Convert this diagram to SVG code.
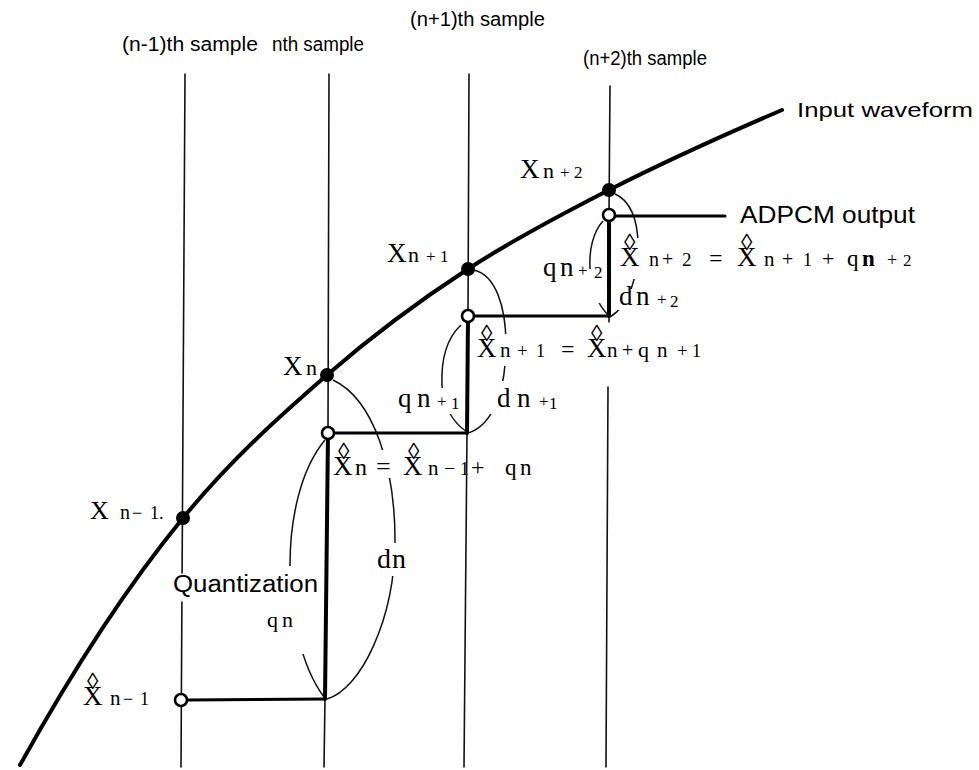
<svg xmlns="http://www.w3.org/2000/svg" width="979" height="770" viewBox="0 0 979 770">
<style>
.thin{stroke:#111;stroke-width:1.6;fill:none;stroke-linecap:round}
.thick{stroke:#000;stroke-width:4;fill:none;stroke-linecap:round}
.hz{stroke:#000;stroke-width:3;fill:none;stroke-linecap:round}
.brace{stroke:#111;stroke-width:1.5;fill:none}
.wave{stroke:#000;stroke-width:4;fill:none;stroke-linecap:round}
.dot{fill:#000}
.open{fill:#fff;stroke:#000;stroke-width:2.6}
.sans{font-family:"Liberation Sans",Arial,sans-serif;fill:#000}
.ser{font-family:"Liberation Serif","Times New Roman",serif;fill:#000}
.h{font-family:"Liberation Serif","DejaVu Serif",serif;font-size:23px}
</style>
<defs>
<mask id="gaps" maskUnits="userSpaceOnUse" x="0" y="0" width="979" height="770">
<rect x="0" y="0" width="979" height="770" fill="#fff"/>
<rect x="368" y="450" width="34" height="28" fill="#000"/>
<rect x="368" y="543" width="34" height="33" fill="#000"/>
<rect x="488" y="334" width="28" height="32" fill="#000"/>
<rect x="488" y="381" width="28" height="33" fill="#000"/>
<rect x="432" y="388" width="24" height="26" fill="#000"/>
<rect x="618" y="238" width="30" height="41" fill="#000"/>
<rect x="618" y="289" width="30" height="21" fill="#000"/>
<rect x="578" y="269" width="24" height="34" fill="#000"/>
<rect x="278" y="566" width="28" height="88" fill="#000"/>
</mask>
</defs>
<rect x="0" y="0" width="979" height="770" fill="#fff"/>

<g id="connectors">
<path class="thin" d="M185,74 L182.1,573 M181.9,602 L181,767"/>
<path class="thin" d="M329,74 L328,433 M325,699 L324,767"/>
<path class="thick" d="M328,433 L325,699"/>
<path class="thin" d="M469,74 L468,316 M467,433 L464,767"/>
<path class="thick" d="M468,316 L467,433"/>
<path class="thin" d="M610,86 L609,215 M609,316 L609,322 M608,387 L606,767"/>
<path class="thick" d="M609,215 L609,316"/>
<path class="hz" d="M187,700 L325,699"/>
<path class="hz" d="M334,433 L467,433"/>
<path class="hz" d="M474,316 L609,316"/>
<path class="hz" d="M615,216 L725,216"/>
<path class="wave" d="M20,765 C74.3,667.3 128.7,584.2 183,518 C231,459.4 279,416.8 327,375 C374,334.1 421,299.6 468,269 C515,238.5 562,214 609,190 C666.7,160.6 724.3,134.8 782,110"/>
<g mask="url(#gaps)">
<path class="brace" d="M333,380 C375,400 395,470 395,540 C395,620 360,690 327,699"/>
<path class="brace" d="M325,440 C300,470 290,520 290,565 C290,610 300,665 324,697"/>
<path class="brace" d="M474,270 C495,275 506,305 506,345 C506,385 495,425 468,433"/>
<path class="brace" d="M461,325 C447,338 441,360 442,385 C443,405 452,422 467,432"/>
<path class="brace" d="M615,194 C630,200 638,220 638,245 C638,275 630,305 610,317"/>
<path class="brace" d="M603,221 C593,232 589,250 590,268 C591,290 598,305 609,316"/>
</g>
</g>

<g id="samples">
<circle class="dot" cx="183" cy="518" r="7"/>
<circle class="dot" cx="327" cy="375" r="7"/>
<circle class="dot" cx="468" cy="269" r="7"/>
<circle class="dot" cx="609" cy="190" r="7"/>
<circle class="open" cx="181" cy="700" r="6"/>
<circle class="open" cx="328" cy="433" r="6"/>
<circle class="open" cx="468" cy="316" r="6"/>
<circle class="open" cx="609" cy="215" r="6"/>
</g>

<g id="header-labels">
<text class="sans" x="410" y="26" font-size="20" textLength="135" lengthAdjust="spacingAndGlyphs">(n+1)th sample</text>
<text class="sans" x="122" y="51" font-size="20" textLength="136" lengthAdjust="spacingAndGlyphs">(n-1)th sample</text>
<text class="sans" x="272" y="51" font-size="20" textLength="92" lengthAdjust="spacingAndGlyphs">nth sample</text>
<text class="sans" x="583" y="65" font-size="20" textLength="124" lengthAdjust="spacingAndGlyphs">(n+2)th sample</text>
<text class="sans" x="797" y="117" font-size="21" textLength="176" lengthAdjust="spacingAndGlyphs">Input waveform</text>
<text class="sans" x="740" y="223" font-size="24" textLength="175" lengthAdjust="spacingAndGlyphs">ADPCM output</text>
<text class="sans" x="173" y="592" font-size="23" textLength="145" lengthAdjust="spacingAndGlyphs">Quantization</text>
</g>

<g id="x-labels">
<text class="ser" y="178"><tspan x="520" font-size="27">X</tspan><tspan x="543" font-size="22">n</tspan><tspan x="560" font-size="17">+</tspan><tspan x="574" font-size="17">2</tspan></text>
<text class="ser" y="262"><tspan x="387" font-size="27">X</tspan><tspan x="408" font-size="22">n</tspan><tspan x="426" font-size="17">+</tspan><tspan x="440" font-size="17">1</tspan></text>
<text class="ser" y="375"><tspan x="283" font-size="27">X</tspan><tspan x="306" font-size="22">n</tspan></text>
<text class="ser" y="519"><tspan x="90" font-size="26">X</tspan><tspan x="120" font-size="20">n</tspan><tspan x="132" font-size="18">−</tspan><tspan x="150" font-size="18">1.</tspan></text>
</g>

<g id="xhat-labels">
<text class="ser"><tspan class="h" x="87" y="689">◊</tspan><tspan x="83" y="705" font-size="27">X</tspan><tspan x="110" font-size="21">n</tspan><tspan x="123" font-size="18">−</tspan><tspan x="140" font-size="18">1</tspan></text>

<text class="ser"><tspan class="h" x="338" y="459">◊</tspan><tspan x="333" y="475" font-size="27">X</tspan><tspan x="355" font-size="24">n</tspan><tspan x="376" font-size="26">=</tspan><tspan class="h" x="408" y="459">◊</tspan><tspan x="403" y="475" font-size="27">X</tspan><tspan x="428" font-size="21">n</tspan><tspan x="444" font-size="20">−</tspan><tspan x="460" font-size="18">1</tspan><tspan x="471" font-size="24">+</tspan><tspan x="505" font-size="23">q</tspan><tspan x="520" font-size="23">n</tspan></text>

<text class="ser"><tspan class="h" x="481" y="341">◊</tspan><tspan x="477" y="357" font-size="27">X</tspan><tspan x="500" font-size="21">n</tspan><tspan x="517" font-size="19">+</tspan><tspan x="536" font-size="18">1</tspan><tspan x="561" font-size="24">=</tspan><tspan class="h" x="591" y="341">◊</tspan><tspan x="587" y="357" font-size="27">X</tspan><tspan x="607" font-size="21">n</tspan><tspan x="622" font-size="20">+</tspan><tspan x="638" font-size="22">q</tspan><tspan x="657" font-size="21">n</tspan><tspan x="677" font-size="19">+</tspan><tspan x="692" font-size="18">1</tspan></text>

<text class="ser"><tspan class="h" x="624" y="250">◊</tspan><tspan x="620" y="266" font-size="27">X</tspan><tspan x="649" font-size="20">n</tspan><tspan x="662" font-size="20">+</tspan><tspan x="682" font-size="19">2</tspan><tspan x="709" font-size="24">=</tspan><tspan class="h" x="741" y="250">◊</tspan><tspan x="737" y="266" font-size="27">X</tspan><tspan x="764" font-size="21">n</tspan><tspan x="782" font-size="20">+</tspan><tspan x="803" font-size="18">1</tspan><tspan x="822" font-size="22">+</tspan><tspan x="847" font-size="23">q</tspan><tspan x="862" font-size="23" font-weight="bold">n</tspan><tspan x="887" font-size="18">+</tspan><tspan x="903" font-size="17">2</tspan></text>
</g>

<g id="difference-labels">
<text class="ser" y="627"><tspan x="267" font-size="22">q</tspan><tspan x="282" font-size="22">n</tspan></text>
<text class="ser" y="568"><tspan x="377" font-size="28">d</tspan><tspan x="392" font-size="28">n</tspan></text>
<text class="ser" y="407"><tspan x="398" font-size="27">q</tspan><tspan x="417" font-size="27">n</tspan><tspan x="437" font-size="17">+</tspan><tspan x="451" font-size="17" dy="2">1</tspan></text>
<text class="ser" y="407"><tspan x="497" font-size="27">d</tspan><tspan x="517" font-size="27">n</tspan><tspan x="539" font-size="17">+</tspan><tspan x="549" font-size="17" dy="2">1</tspan></text>
<text class="ser" y="276"><tspan x="543" font-size="27">q</tspan><tspan x="560" font-size="27">n</tspan><tspan x="578" font-size="17">+</tspan><tspan x="594" font-size="17" dy="2">2</tspan></text>
<text class="ser" y="305"><tspan x="619" font-size="27">d</tspan><tspan x="636" font-size="27">n</tspan><tspan x="657" font-size="17">+</tspan><tspan x="670" font-size="17" dy="2">2</tspan></text>
</g>
</svg>
